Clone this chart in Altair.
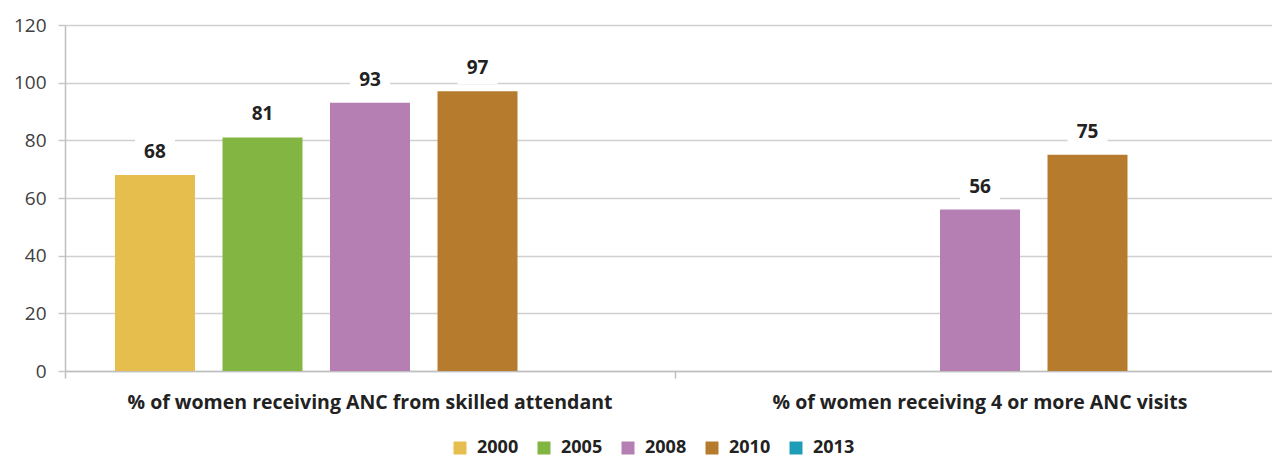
import altair as alt
import pandas as pd

categories = [
    "% of women receiving ANC from skilled attendant",
    "% of women receiving 4 or more ANC visits",
]
years = ["2000", "2005", "2008", "2010", "2013"]
colors = ["#E6BE4E", "#82B541", "#B57FB3", "#B77B2D", "#1E9CB8"]

# values per category (None = not available)
skilled_attendant = [68, 81, 93, 97, None]
four_visits = [None, None, 56, 75, None]

rows = []
for cat, vals in zip(categories, [skilled_attendant, four_visits]):
    for y, v in zip(years, vals):
        if v is not None:
            rows.append({"category": cat, "year": y, "value": v})
df = pd.DataFrame(rows)

FONT = "Open Sans"

x_enc = alt.X(
    "category:N",
    sort=categories,
    title=None,
    scale=alt.Scale(paddingInner=0, paddingOuter=0, range=[0, 1220]),
    axis=alt.Axis(
        labelAngle=0,
        labelFont=FONT,
        labelFontSize=19.5,
        labelFontWeight="bold",
        labelColor="#222222",
        labelPadding=15,
        labelLimit=0,
        tickColor="#BFBFBF",
        tickSize=7,
        tickWidth=1.5,
        bandPosition=0,
        domainColor="#BFBFBF",
        domainWidth=1.5,
        grid=False,
    ),
)
xoff_enc = alt.XOffset(
    "year:N",
    scale=alt.Scale(domain=years, paddingInner=0.256, paddingOuter=0.465),
)

bars = alt.Chart(df).mark_bar().encode(
    x=x_enc,
    xOffset=xoff_enc,
    y=alt.Y(
        "value:Q",
        title=None,
        scale=alt.Scale(domain=[0, 120], nice=False),
        axis=alt.Axis(
            values=[0, 20, 40, 60, 80, 100, 120],
            labelFont=FONT,
            labelFontSize=19,
            labelColor="#404040",
            labelPadding=12,
            tickColor="#C8C8C8",
            tickSize=7,
            tickWidth=1.5,
            gridColor="#D0D0D0",
            gridWidth=1.5,
            domainColor="#BFBFBF",
            domainWidth=1.5,
        ),
    ),
    color=alt.Color(
        "year:N",
        scale=alt.Scale(domain=years, range=colors),
        legend=alt.Legend(
            title=None,
            orient="none",
            direction="horizontal",
            legendX=386,
            legendY=414,
            symbolType="square",
            symbolSize=169,
            symbolStrokeWidth=0,
            symbolOpacity=1,
            labelFont=FONT,
            labelFontSize=18,
            labelFontWeight="bold",
            labelColor="#222222",
            labelOffset=8,
            columnPadding=16,
        ),
    ),
)

boxes = alt.Chart(df).transform_calculate(
    lo="datum.value + 2.5", hi="datum.value + 13.5"
).mark_bar(width=40, color="white").encode(
    x=alt.X("category:N", sort=categories),
    xOffset=alt.XOffset("year:N"),
    y="lo:Q",
    y2="hi:Q",
)

labels = alt.Chart(df).mark_text(
    dy=-23, font=FONT, fontSize=19, fontWeight="bold", color="#222222"
).encode(
    x=alt.X("category:N", sort=categories),
    xOffset=alt.XOffset("year:N"),
    y="value:Q",
    text="value:Q",
)

chart = alt.layer(bars, boxes, labels).properties(
    width=1207,
    height=346,
    autosize=alt.AutoSizeParams(type="none"),
    padding={"left": 65, "top": 25, "right": 0, "bottom": 86},
).configure_view(stroke=None)

chart.save("out.html", embed_options={"renderer": "svg", "actions": False})
